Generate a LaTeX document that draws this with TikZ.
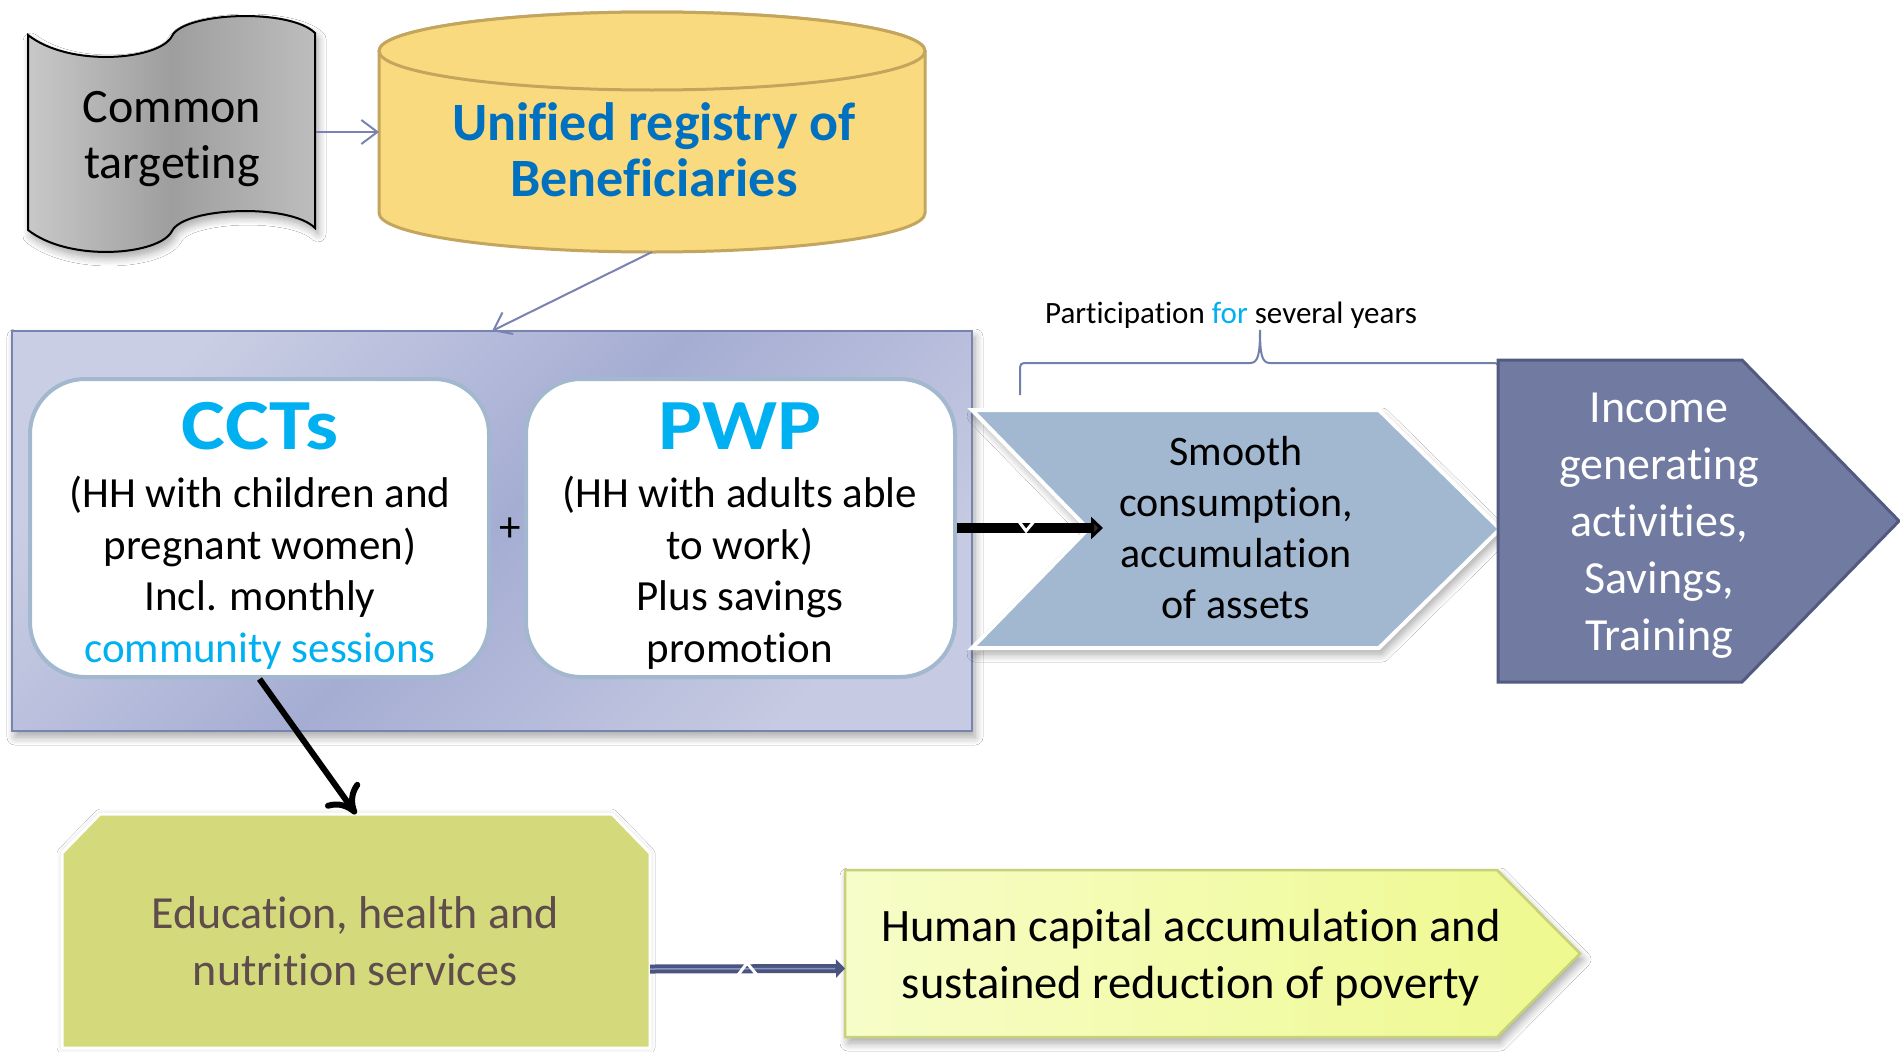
\documentclass[tikz,border=0pt]{standalone}
\usepackage{fontspec}
\setmainfont{Carlito}[Ligatures={NoCommon,NoContextual}]
\newfontfamily\titlefont{Carlito}[Ligatures={NoCommon,NoContextual}, FakeStretch=1.15]
\usetikzlibrary{arrows.meta,shadows.blur,calc}
\newcommand\setfs[2]{\fontsize{#1}{#2}\selectfont}
\definecolor{cylF}{HTML}{FADA7E}
\definecolor{cylD}{HTML}{C3A55E}
\definecolor{regBlue}{HTML}{0070C0}
\definecolor{cyanT}{HTML}{00B0F0}
\definecolor{scrL}{HTML}{C8C8C8}
\definecolor{scrM}{HTML}{9E9E9E}
\definecolor{scrR}{HTML}{BDBDBD}
\definecolor{bigL}{HTML}{CACEE4}
\definecolor{bigM}{HTML}{A5ADD3}
\definecolor{bigR}{HTML}{C6CAE2}
\definecolor{bigD}{HTML}{7884B0}
\definecolor{rbD}{HTML}{A2B8CE}
\definecolor{smF}{HTML}{A1B8D0}
\definecolor{incF}{HTML}{717BA1}
\definecolor{incD}{HTML}{525A80}
\definecolor{eduF}{HTML}{D4DA7B}
\definecolor{eduTxt}{HTML}{5F4C4C}
\definecolor{humL}{HTML}{F7FDC8}
\definecolor{humR}{HTML}{EEF98E}
\definecolor{humD}{HTML}{C8D07A}
\definecolor{thinA}{HTML}{7A82B2}
\definecolor{braceC}{HTML}{7380AA}
\definecolor{darkA}{HTML}{4B5480}
\definecolor{darkHi}{HTML}{8A95BD}
\begin{document}
\begin{tikzpicture}[x=1pt,y=-1pt,
  anchorbox/.style={inner sep=0pt, outer sep=0pt, draw=none},
  txt/.style={inner sep=0pt, align=center},
  thin link/.style={draw=thinA, line width=2pt,
    -{Straight Barb[length=16pt,width=24pt,line width=2pt]}},
  soft shadow/.style={blur shadow={shadow xshift=3pt, shadow yshift=-6pt,
    shadow blur radius=8pt, shadow blur steps=8, shadow opacity=35}},
  glow shadow/.style={blur shadow={shadow xshift=0pt, shadow yshift=0pt,
    shadow blur radius=5pt, shadow blur steps=6, shadow opacity=20}},
  rbox/.style={draw=rbD, line width=4pt, fill=white, rounded corners=55pt, inner sep=0pt}]

\useasboundingbox (0,0) rectangle (1900,1052);
\fill[white] (0,0) rectangle (1900,1052);

% ---------- common targeting (punched tape) ----------
\path[soft shadow, left color=scrL, right color=scrR, middle color=scrM,
      draw=black, line width=2pt]
  (28,35) .. controls (70,68) and (160,60) .. (172,36)
          .. controls (184,12) and (290,8) .. (315,33)
  -- (315,228) .. controls (290,203) and (184,207) .. (172,231)
               .. controls (160,255) and (70,263) .. (28,230) -- cycle;
\node[anchorbox, minimum width=288pt, minimum height=236pt] (tgt) at (172,132) {};
\node[txt, font=\setfs{48}{56}] (tgtT) at (172,139) {Common\\targeting};

% ---------- unified registry (cylinder) ----------
\path[fill=cylF, draw=cylD, line width=3pt]
  (379,51) -- (379,213) arc[start angle=180, end angle=0, x radius=273, y radius=39]
  -- (925,51) arc[start angle=0, end angle=-180, x radius=273, y radius=39] -- cycle;
\draw[fill=cylF, draw=cylD, line width=3pt] (652,51) ellipse[x radius=273, y radius=39];
\node[anchorbox, minimum width=546pt, minimum height=240pt] (reg) at (652,132) {};
\node[txt, font=\setfs{54}{56}\bfseries, text=regBlue] (regT) at (654,150)
  {Unified registry of\\Beneficiaries};

% ---------- programme panel ----------
\node[anchorbox, draw=bigD, line width=2pt, top color=bigL, bottom color=bigR,
      middle color=bigM, shading angle=45, soft shadow,
      minimum width=960pt, minimum height=400pt] (big) at (492,531) {};
\node[rbox, minimum width=459pt, minimum height=298pt] (cct) at (259.5,528) {};
\node[rbox, minimum width=429pt, minimum height=298pt] (pwp) at (740.5,528) {};
\node[txt, font=\setfs{43}{51.5}] (cctT) at (260,536)
  {{\titlefont\setfs{72}{72}\bfseries\color{cyanT}CCTs}\\[6.5pt]
   (HH with children and\\pregnant women)\\Incl. monthly\\
   \textcolor{cyanT}{community sessions}};
\node[txt, font=\setfs{43}{51.5}] (pwpT) at (740,536)
  {{\titlefont\setfs{72}{72}\bfseries\color{cyanT}PWP}\\[6.5pt]
   (HH with adults able\\to work)\\Plus savings\\promotion};
\node[txt, font=\setfs{43}{43}] (plus) at (510,530) {+};

% ---------- participation brace ----------
\draw[braceC, line width=2pt]
  (1020,395) -- (1020,372) .. controls (1020,363) .. (1029,363) -- (1250,363)
  .. controls (1258,363) and (1260,355) .. (1260,330)
  .. controls (1260,355) and (1262,363) .. (1270,363) -- (1490,363)
  .. controls (1499,363) .. (1499,372) -- (1499,395);
\node[inner sep=0pt, anchor=base, font=\setfs{31}{36}] (part) at (1231,323)
  {Participation \textcolor{cyanT}{for} several years};

% ---------- smooth consumption (chevron) ----------
\path[soft shadow, fill=smF, draw=white, line width=4pt]
  (972,410) -- (1379,410) -- (1500,529) -- (1379,648) -- (972,648) -- (1088,529) -- cycle;
\node[anchorbox, minimum width=528pt, minimum height=238pt] (smooth) at (1236,528) {};
\node[txt, font=\setfs{42}{51}] (smoothT) at (1236,528)
  {Smooth\\consumption,\\accumulation\\of assets};

% ---------- income generating (pentagon) ----------
\path[fill=incF, draw=incD, line width=3pt]
  (1498,360) -- (1742,360) -- (1899,521) -- (1742,682) -- (1498,682) -- cycle;
\node[anchorbox, minimum width=322pt, minimum height=322pt] (inc) at (1659,521) {};
\node[txt, font=\setfs{46}{57}, text=white] (incT) at (1659,526)
  {Income\\generating\\activities,\\Savings,\\Training};

% ---------- services ----------
\path[glow shadow, fill=eduF, draw=white, line width=3pt]
  (100,814) -- (612,814) -- (650,853) -- (650,1048) -- (62,1048) -- (62,853) -- cycle;
\node[anchorbox, minimum width=588pt, minimum height=234pt] (edu) at (356,931) {};
\node[txt, font=\setfs{46}{57}, text=eduTxt] (eduT) at (355,941)
  {Education, health and\\nutrition services};

% ---------- human capital (pentagon) ----------
\path[soft shadow, left color=humL, right color=humR, draw=humD, line width=2.5pt]
  (845,870) -- (1497,870) -- (1580,953.5) -- (1497,1037) -- (845,1037) -- cycle;
\node[anchorbox, minimum width=735pt, minimum height=167pt] (hum) at (1212.5,953.5) {};
\node[txt, font=\setfs{46.5}{57}] (humT) at (1191,958)
  {Human capital accumulation and\\sustained reduction of poverty};

% ---------- connectors ----------
\draw[thin link] (tgt.east) -- (reg.west);
\draw[thin link] (reg.south) -- (big.north);
\draw[line width=6pt, -{Computer Modern Rightarrow[length=26pt,width=42pt]}]
  (cct.south) -- (edu.north);
\draw[line width=10pt, -{Triangle[length=12pt,width=22pt]}]
  (pwp.east) -- ($(smooth.west)+(131,0)$);
\draw[white, line width=3pt] (1017,519) -- (1026,531) -- (1036,519);
\draw[darkA, line width=9pt, -{Triangle[length=9pt,width=18pt]}]
  ([yshift=-38pt]edu.east) -- ([yshift=-15pt]hum.west);
\draw[darkHi, line width=1.5pt]
  ([yshift=-38pt]edu.east) -- ([xshift=-10pt,yshift=-15pt]hum.west);
\draw[white, line width=3pt] (738,975) -- (747,963) -- (757,975);

\end{tikzpicture}
\end{document}
